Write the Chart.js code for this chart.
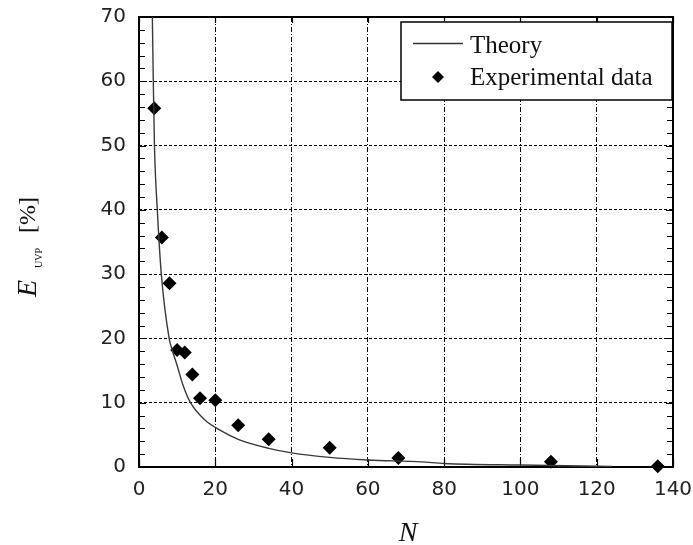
<!DOCTYPE html>
<html>
<head>
<meta charset="utf-8">
<script src="https://cdn.jsdelivr.net/npm/chart.js@4.4.1/dist/chart.umd.min.js"></script>
<style>
  html, body { margin: 0; padding: 0; background: #fff; }
  #plot { display: block; }
</style>
</head>
<body>
<canvas id="plot" width="693" height="545"></canvas>
<script>
// theory curve, sampled along N
const nTheory = [3.5, 3.75, 4.05, 4.8, 5.85, 7.9, 8.7, 10, 11.5, 13.5, 17.3, 21, 26, 34, 40, 50, 60, 74, 80, 100, 124];
const eTheory = [70, 60, 50, 40, 30, 20, 18.2, 15.8, 12.8, 10, 7.3, 5.8, 4.3, 2.9, 2.2, 1.5, 1.1, 0.8, 0.55, 0.3, 0.1];

// measured values
const nExp = [4, 6, 8, 10, 12, 14, 16, 20, 26, 34, 50, 68, 108, 136];
const eExp = [55.8, 35.7, 28.6, 18.2, 17.8, 14.4, 10.7, 10.4, 6.5, 4.3, 3.0, 1.4, 0.8, 0.1];

const xTicks = [0, 20, 40, 60, 80, 100, 120, 140];
const yTicks = [0, 10, 20, 30, 40, 50, 60, 70];

const seriesNames = ["Theory", "Experimental data"];

function toPoints(xs, ys) {
    return xs.map(function (x, i) { return { x: x, y: ys[i] }; });
}

const tickFont = { family: "DejaVu Sans", size: 20 };
const serif = "'Liberation Serif', 'Times New Roman', serif";

// frame, inward ticks, axis titles and the boxed legend
const framePlugin = {
    id: "frame",
    beforeDatasetsDraw: function (chart) {
        const ctx = chart.ctx;
        const a = chart.chartArea;
        const xs = chart.scales.x;
        const ys = chart.scales.y;
        ctx.save();
        ctx.strokeStyle = "#000";
        ctx.lineWidth = 1.2;
        ctx.beginPath();
        for (let v = 0; v <= 70; v += 2) {
            const py = Math.round(ys.getPixelForValue(v)) + 0.5;
            const len = v % 10 === 0 ? 7 : 6;
            ctx.moveTo(a.left, py); ctx.lineTo(a.left + len, py);
            ctx.moveTo(a.right, py); ctx.lineTo(a.right - len, py);
        }
        xTicks.forEach(function (v) {
            const px = Math.round(xs.getPixelForValue(v)) + 0.5;
            ctx.moveTo(px, a.bottom); ctx.lineTo(px, a.bottom - 8);
            ctx.moveTo(px, a.top); ctx.lineTo(px, a.top + 6);
        });
        ctx.stroke();
        ctx.lineWidth = 2;
        ctx.strokeRect(a.left, a.top, a.right - a.left, a.bottom - a.top);
        ctx.restore();
    },
    afterDraw: function (chart) {
        const ctx = chart.ctx;
        ctx.save();
        ctx.fillStyle = "#111";

        // x title
        ctx.font = "italic 28px " + serif;
        ctx.textAlign = "center";
        ctx.textBaseline = "alphabetic";
        ctx.fillText("N", 408, 541);

        // y title, rotated
        ctx.translate(36, 297);
        ctx.rotate(-Math.PI / 2);
        ctx.textAlign = "left";
        ctx.font = "italic 28px " + serif;
        ctx.fillText("E", 0, 0);
        ctx.font = "10px " + serif;
        ctx.fillText("UVP", 29, 6);
        ctx.font = "24px " + serif;
        ctx.fillText("[%]", 64, -1);
        ctx.restore();

        // legend box
        const lx = 401, ly = 22, lw = 271, lh = 78;
        ctx.save();
        ctx.fillStyle = "#fff";
        ctx.fillRect(lx, ly, lw, lh);
        ctx.strokeStyle = "#000";
        ctx.lineWidth = 1.5;
        ctx.strokeRect(lx, ly, lw, lh);

        ctx.strokeStyle = "#333";
        ctx.lineWidth = 1.3;
        ctx.beginPath();
        ctx.moveTo(413, 43.5);
        ctx.lineTo(463, 43.5);
        ctx.stroke();

        ctx.fillStyle = "#000";
        ctx.beginPath();
        ctx.moveTo(438, 71); ctx.lineTo(444, 77); ctx.lineTo(438, 83); ctx.lineTo(432, 77);
        ctx.closePath();
        ctx.fill();

        ctx.fillStyle = "#111";
        ctx.font = "25px " + serif;
        ctx.textAlign = "left";
        ctx.textBaseline = "alphabetic";
        ctx.fillText(seriesNames[0], 470, 53);
        ctx.fillText(seriesNames[1], 470, 85);
        ctx.restore();
    }
};

document.addEventListener("DOMContentLoaded", function () {

    let ctx = document.getElementById("plot").getContext("2d");

    let chart = new Chart(ctx, {
        type: "scatter",
        data: {
            datasets: [
                {
                    label: seriesNames[0],
                    data: toPoints(nTheory, eTheory),
                    showLine: true,
                    borderColor: "#3a3a3a",
                    borderWidth: 1.4,
                    pointRadius: 0,
                    cubicInterpolationMode: "monotone"
                },
                {
                    label: seriesNames[1],
                    data: toPoints(nExp, eExp),
                    pointStyle: "rectRot",
                    pointRadius: 7,
                    backgroundColor: "#000",
                    borderColor: "#000",
                    borderWidth: 0,
                    clip: false
                }
            ]
        },
        options: {
            responsive: false,
            animation: false,
            layout: { padding: { top: 17, right: 20, left: 0, bottom: 0 } },
            plugins: {
                legend: { display: false },
                tooltip: { enabled: false }
            },
            scales: {
                x: {
                    type: "linear",
                    min: 0,
                    max: 140,
                    afterBuildTicks: function (scale) {
                        scale.ticks = xTicks.map(function (v) { return { value: v }; });
                    },
                    afterFit: function (scale) {
                        scale.height = 78;
                        scale.paddingLeft = 0;
                        scale.paddingRight = 0;
                    },
                    ticks: { font: tickFont, color: "#222", padding: 11, maxRotation: 0 },
                    grid: {
                        drawTicks: false,
                        lineWidth: 1,
                        color: function (c) {
                            return (c.tick && (c.tick.value === 0 || c.tick.value === 140)) ? "rgba(0,0,0,0)" : "#000";
                        }
                    },
                    border: { display: false, dash: [5, 2, 1, 2] }
                },
                y: {
                    type: "linear",
                    min: 0,
                    max: 70,
                    afterBuildTicks: function (scale) {
                        scale.ticks = yTicks.map(function (v) { return { value: v }; });
                    },
                    afterFit: function (scale) {
                        scale.width = 139;
                        scale.paddingTop = 0;
                        scale.paddingBottom = 0;
                    },
                    ticks: { font: tickFont, color: "#222", padding: 13 },
                    grid: {
                        drawTicks: false,
                        lineWidth: 1,
                        color: function (c) {
                            return (c.tick && (c.tick.value === 0 || c.tick.value === 70)) ? "rgba(0,0,0,0)" : "#000";
                        }
                    },
                    border: { display: false, dash: [3, 2] }
                }
            }
        },
        plugins: [framePlugin]
    });

});
</script>
</body>
</html>
